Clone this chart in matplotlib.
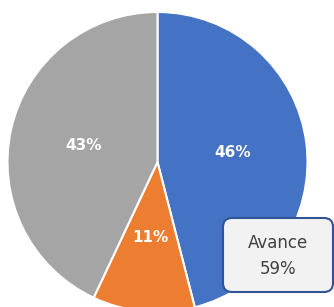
import matplotlib
matplotlib.use("Agg")
import matplotlib.pyplot as plt
from matplotlib.patches import FancyBboxPatch

categories = ["Avance", "Retraso", "Pendiente"]
values = [46, 11, 43]
colors = ["#4472C4", "#ED7D31", "#A5A5A5"]
callout_label = "Avance"
callout_value = "59%"

W, H = 334, 307
fig = plt.figure(figsize=(W / 100, H / 100), dpi=100)
fig.patch.set_facecolor("white")

# pie axes: center (157.5, 162) px from top-left, radius 150 px
cx, cy, r = 157.5, 162, 150
ax = fig.add_axes([(cx - r) / W, (H - (cy + r)) / H, 2 * r / W, 2 * r / H])
wedges, texts, autotexts = ax.pie(
    values, colors=colors, startangle=90, counterclock=False,
    autopct=lambda p: f"{p:.0f}%", pctdistance=0.505,
    wedgeprops=dict(edgecolor="white", linewidth=1.5),
    textprops=dict(color="white", fontsize=11, fontweight="bold"),
)
ax.set_xlim(-1, 1)
ax.set_ylim(-1, 1)
ax.axis("off")

# overlay axes in pixel coordinates for the callout
ov = fig.add_axes([0, 0, 1, 1])
ov.set_xlim(0, W)
ov.set_ylim(H, 0)
ov.axis("off")
box = FancyBboxPatch((223, 218), 110, 74,
                     boxstyle="round,pad=0,rounding_size=9",
                     facecolor="#F2F2F2", edgecolor="#2F5597", linewidth=1.5)
ov.add_patch(box)
ov.text(278, 256, f"{callout_label}\n{callout_value}", ha="center", va="center",
        fontsize=12, color="#404040", linespacing=1.5)

fig.savefig("out.png", dpi=100)
